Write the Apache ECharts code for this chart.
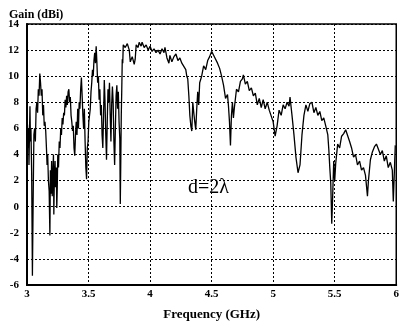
<!DOCTYPE html>
<html>
<head>
<meta charset="utf-8">
<script src="https://cdn.jsdelivr.net/npm/echarts@6/dist/echarts.min.js"></script>
<style>
  html, body { margin: 0; padding: 0; background: #fff; }
  #chart { width: 402px; height: 326px; }
</style>
</head>
<body>
<div id="chart"></div>
<script>
const freq = [
  3.000, 3.004, 3.008, 3.012, 3.016, 3.020, 3.024, 3.028, 3.032, 3.038, 3.044, 3.050, 3.056, 3.062, 3.068, 3.074,
  3.080, 3.086, 3.092, 3.098, 3.104, 3.110, 3.116, 3.122, 3.128, 3.134, 3.140, 3.146, 3.152, 3.158, 3.163, 3.168,
  3.174, 3.180, 3.186, 3.190, 3.195, 3.200, 3.205, 3.210, 3.215, 3.218, 3.222, 3.228, 3.232, 3.238, 3.242, 3.246,
  3.250, 3.256, 3.262, 3.268, 3.274, 3.280, 3.286, 3.292, 3.298, 3.304, 3.310, 3.316, 3.322, 3.328, 3.334, 3.340,
  3.346, 3.352, 3.358, 3.364, 3.370, 3.376, 3.382, 3.388, 3.394, 3.400, 3.406, 3.412, 3.418, 3.424, 3.430, 3.436,
  3.442, 3.448, 3.454, 3.460, 3.466, 3.472, 3.478, 3.484, 3.490, 3.496, 3.502, 3.508, 3.514, 3.520, 3.526, 3.532,
  3.538, 3.544, 3.550, 3.556, 3.562, 3.568, 3.574, 3.580, 3.586, 3.592, 3.598, 3.604, 3.610, 3.616, 3.622, 3.628,
  3.634, 3.640, 3.646, 3.652, 3.658, 3.664, 3.670, 3.676, 3.682, 3.688, 3.694, 3.700, 3.706, 3.712, 3.718, 3.724,
  3.730, 3.736, 3.742, 3.748, 3.754, 3.758, 3.762, 3.766, 3.770, 3.774, 3.778, 3.782, 3.798, 3.815, 3.831, 3.839,
  3.855, 3.871, 3.879, 3.887, 3.903, 3.911, 3.927, 3.935, 3.952, 3.968, 3.984, 4.000, 4.016, 4.032, 4.048, 4.065,
  4.081, 4.097, 4.113, 4.121, 4.137, 4.153, 4.161, 4.177, 4.194, 4.210, 4.226, 4.242, 4.258, 4.274, 4.290, 4.298,
  4.306, 4.315, 4.323, 4.331, 4.339, 4.347, 4.355, 4.363, 4.371, 4.379, 4.387, 4.395, 4.403, 4.419, 4.435, 4.452,
  4.468, 4.484, 4.500, 4.516, 4.532, 4.548, 4.565, 4.581, 4.597, 4.613, 4.629, 4.637, 4.645, 4.653, 4.661, 4.669,
  4.677, 4.685, 4.702, 4.718, 4.734, 4.750, 4.758, 4.774, 4.790, 4.806, 4.823, 4.839, 4.855, 4.871, 4.887, 4.903,
  4.919, 4.935, 4.952, 4.968, 4.984, 5.000, 5.016, 5.032, 5.048, 5.065, 5.081, 5.097, 5.113, 5.129, 5.137, 5.153,
  5.169, 5.185, 5.202, 5.218, 5.234, 5.250, 5.266, 5.282, 5.298, 5.315, 5.331, 5.347, 5.363, 5.379, 5.395, 5.411,
  5.427, 5.444, 5.452, 5.460, 5.468, 5.476, 5.484, 5.492, 5.500, 5.508, 5.524, 5.540, 5.556, 5.573, 5.589, 5.605,
  5.621, 5.637, 5.653, 5.669, 5.685, 5.702, 5.718, 5.734, 5.750, 5.766, 5.774, 5.790, 5.806, 5.823, 5.839, 5.855,
  5.871, 5.887, 5.903, 5.919, 5.935, 5.952, 5.968, 5.976, 5.984, 5.992
];
const gain = [
  3.5, 6.3, 4.5, 6.0, 3.2, 5.5, 7.7, 5.0, 6.0, 2.5, -5.3, 0.5, 5.5, 6.0, 5.0, 7.5,
  8.0, 7.2, 9.0, 8.5, 10.2, 9.5, 8.5, 9.0, 7.0, 7.8, 6.2, 6.5, 5.8, 4.5, 3.2, 4.0,
  2.0, 1.2, -2.2, 2.8, 1.0, 3.5, 0.8, 2.5, 4.0, -0.6, 2.0, 3.5, 1.5, 3.0, -0.1, 1.5,
  4.0, 3.0, 5.0, 4.5, 6.0, 5.5, 6.8, 6.3, 7.2, 7.0, 8.2, 7.6, 8.5, 7.8, 8.8, 9.0,
  8.0, 8.4, 7.0, 6.5, 5.8, 6.2, 4.5, 3.9, 5.5, 6.5, 5.5, 7.5, 6.0, 8.0, 7.5, 9.0,
  9.9, 8.5, 7.0, 6.0, 7.5, 5.0, 3.0, 2.1, 4.5, 5.0, 6.5, 7.0, 7.5, 8.8, 9.5, 10.5,
  10.0, 11.2, 11.8, 11.0, 12.3, 11.0, 9.5, 10.0, 8.2, 9.0, 7.0, 7.8, 5.5, 4.5, 7.0, 9.7,
  8.0, 5.5, 3.6, 6.5, 9.0, 8.0, 9.5, 7.0, 5.0, 7.8, 9.2, 8.0, 5.0, 3.2, 6.0, 8.5,
  9.3, 7.5, 8.8, 6.5, 5.2, 0.2, 3.5, 7.0, 9.0, 11.3, 11.0, 12.4, 12.2, 12.5, 12.0, 11.1,
  11.5, 10.9, 11.3, 12.4, 12.2, 12.6, 12.3, 12.6, 12.2, 12.4, 12.0, 12.3, 11.9, 12.1, 11.8, 12.0,
  11.7, 12.1, 11.8, 12.2, 11.4, 11.0, 11.6, 11.1, 11.5, 11.7, 11.2, 11.4, 11.0, 11.1, 10.5, 10.0,
  9.8, 8.5, 7.0, 6.2, 5.8, 8.0, 7.2, 6.5, 5.9, 7.5, 8.8, 7.8, 9.5, 10.0, 10.8, 10.5,
  11.2, 11.5, 11.9, 11.6, 11.5, 11.0, 10.6, 10.0, 9.3, 8.3, 8.6, 7.7, 6.5, 4.7, 7.0, 8.0,
  6.8, 7.6, 9.0, 8.8, 9.6, 9.8, 10.1, 9.4, 9.6, 8.9, 9.1, 8.5, 8.7, 7.8, 8.3, 7.6,
  8.2, 7.5, 8.0, 7.4, 7.3, 6.5, 5.4, 6.2, 7.4, 7.0, 7.8, 7.5, 8.0, 7.7, 8.4, 7.0,
  5.5, 3.8, 2.6, 3.2, 5.5, 7.0, 7.8, 7.3, 7.9, 8.0, 7.2, 7.6, 7.0, 7.3, 6.6, 6.8,
  6.2, 5.5, 4.4, 3.0, 1.8, -1.3, 1.0, 3.5, 2.0, 3.3, 4.8, 4.5, 5.4, 5.6, 5.9, 6.0,
  5.0, 4.5, 3.8, 4.0, 3.2, 3.5, 2.8, 3.0, 2.4, 0.8, 2.0, 3.6, 4.2, 4.6, 4.8, 4.4,
  4.0, 4.3, 3.5, 3.9, 3.0, 3.4, 2.8, 0.4, 2.5, 4.7
];
const yTicks = { min: -6, max: 14, step: 2 };
const xTicks = { min: 3, max: 6, step: 0.5 };
const note = 'd=2\u03bb';

const serif = '"Liberation Serif", "DejaVu Serif", serif';
let chart = echarts.init(document.getElementById('chart'));
let option = {
  animation: false,
  backgroundColor: '#fff',
  grid: {
    left: 27, right: 4, top: 24, bottom: 36,
    show: true, borderColor: '#000', borderWidth: 1.5
  },
  title: {
    text: 'Gain (dBi)',
    left: 4, top: 4,
    textStyle: { fontFamily: serif, fontWeight: 'bold', fontSize: 12, color: '#000' }
  },
  xAxis: {
    type: 'value',
    min: xTicks.min, max: xTicks.max, interval: xTicks.step,
    name: 'Frequency (GHz)',
    nameLocation: 'middle', nameGap: 23,
    nameTextStyle: { fontFamily: serif, fontWeight: 'bold', fontSize: 13, color: '#000' },
    axisLine: { onZero: false, lineStyle: { color: '#000', width: 2 } },
    axisTick: { show: false },
    axisLabel: { fontFamily: serif, fontWeight: 'bold', fontSize: 11, color: '#000', margin: 4 },
    splitLine: { lineStyle: { color: '#000', type: [2, 2], width: 1 } }
  },
  yAxis: {
    type: 'value',
    min: yTicks.min, max: yTicks.max, interval: yTicks.step,
    axisLine: { onZero: false, lineStyle: { color: '#000', width: 2 } },
    axisTick: { show: false },
    axisLabel: { fontFamily: serif, fontWeight: 'bold', fontSize: 11, color: '#000', margin: 8 },
    splitLine: { lineStyle: { color: '#000', type: [2, 2], width: 1 } }
  },
  graphic: [{
    type: 'text',
    left: 188, top: 178,
    style: { text: note, font: '20px ' + serif, fill: '#000' }
  }],
  series: [{
    type: 'line',
    data: freq.map((f, i) => [f, gain[i]]),
    showSymbol: false,
    lineStyle: { color: '#000', width: 1.3 }
  }]
};
chart.setOption(option);
</script>
</body>
</html>
